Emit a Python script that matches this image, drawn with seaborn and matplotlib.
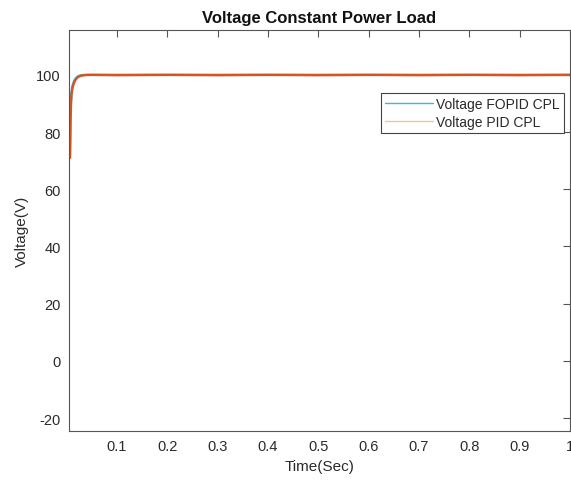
import matplotlib
matplotlib.use("Agg")
import matplotlib.pyplot as plt
import seaborn as sns
import pandas as pd
from matplotlib.lines import Line2D

# Bus voltage under a constant power load, sampled at selected instants (s, V)
time_s = [0.007, 0.008, 0.009, 0.010, 0.012, 0.015, 0.018, 0.022, 0.027,
          0.033, 0.040, 0.050, 0.100, 0.200, 0.300, 0.400, 0.500, 0.600,
          0.700, 0.800, 0.900, 1.000]
voltage_fopid = [72.0, 85.0, 91.0, 94.0, 96.2, 97.8, 98.7, 99.4, 99.8,
                 99.95, 100.0, 100.0, 100.0, 100.0, 100.0, 100.0, 100.0, 100.0,
                 100.0, 100.0, 100.0, 100.0]
voltage_pid = [71.0, 84.0, 90.0, 93.0, 95.5, 97.2, 98.3, 99.1, 99.6,
               99.85, 99.95, 100.0, 99.9, 100.0, 99.9, 100.0, 99.9, 100.0,
               99.9, 100.0, 99.9, 100.0]

series_names = ["Voltage FOPID CPL", "Voltage PID CPL"]
x_ticks = [0.1, 0.2, 0.3, 0.4, 0.5, 0.6, 0.7, 0.8, 0.9, 1.0]
x_tick_labels = ["0.1", "0.2", "0.3", "0.4", "0.5", "0.6", "0.7", "0.8", "0.9", "1"]
y_ticks = [-20, 0, 20, 40, 60, 80, 100]

df = pd.concat([
    pd.DataFrame({"Time": time_s, "Voltage": voltage_fopid, "Controller": series_names[0]}),
    pd.DataFrame({"Time": time_s, "Voltage": voltage_pid, "Controller": series_names[1]}),
], ignore_index=True)

sns.set_style("white")
plt.rcParams["font.family"] = ["Liberation Sans", "DejaVu Sans"]
plt.rcParams["axes.unicode_minus"] = False

line_colors = {series_names[0]: "#2fb2d8", series_names[1]: "#d9531e"}
legend_colors = ["#3cb8d8", "#f2c49a"]

fig = plt.figure(figsize=(5.71, 4.81), dpi=100)
ax = fig.add_axes([0.1208, 0.1019, 0.8774, 0.8337])

sns.lineplot(data=df, x="Time", y="Voltage", hue="Controller",
             palette=line_colors, linewidth=1.7, ax=ax, legend=False,
             sort=False, estimator=None)

ax.set_xlim(0.005, 1.0)
ax.set_ylim(-24.5, 115.7)
ax.set_xticks(x_ticks)
ax.set_xticklabels(x_tick_labels)
ax.set_yticks(y_ticks)

text_color = "#2a2a2a"
ax.tick_params(axis="both", direction="in", length=5, width=0.8,
               colors="#555555", labelcolor=text_color, labelsize=10.5,
               top=True, right=True, pad=6)
for sp in ax.spines.values():
    sp.set_color("#555555")
    sp.set_linewidth(0.8)
    sp.set_visible(True)

ax.set_title("Voltage Constant Power Load", fontsize=12, fontweight="bold",
             color="#111111", pad=6)
ax.set_xlabel("Time(Sec)", fontsize=11, color=text_color, labelpad=4)
ax.set_ylabel("Voltage(V)", fontsize=11, color=text_color, labelpad=5)

handles = [Line2D([], [], color=c, linewidth=1.0) for c in legend_colors]
leg = ax.legend(handles, series_names, loc="upper right",
                bbox_to_anchor=(0.988, 0.843), borderaxespad=0,
                fontsize=10, frameon=True, fancybox=False, framealpha=1,
                edgecolor="#444444", handlelength=3.5, handletextpad=0.2,
                labelspacing=0.25, borderpad=0.3)
leg.get_frame().set_linewidth(0.8)
for t in leg.get_texts():
    t.set_color(text_color)

fig.savefig("out.png", dpi=100)
